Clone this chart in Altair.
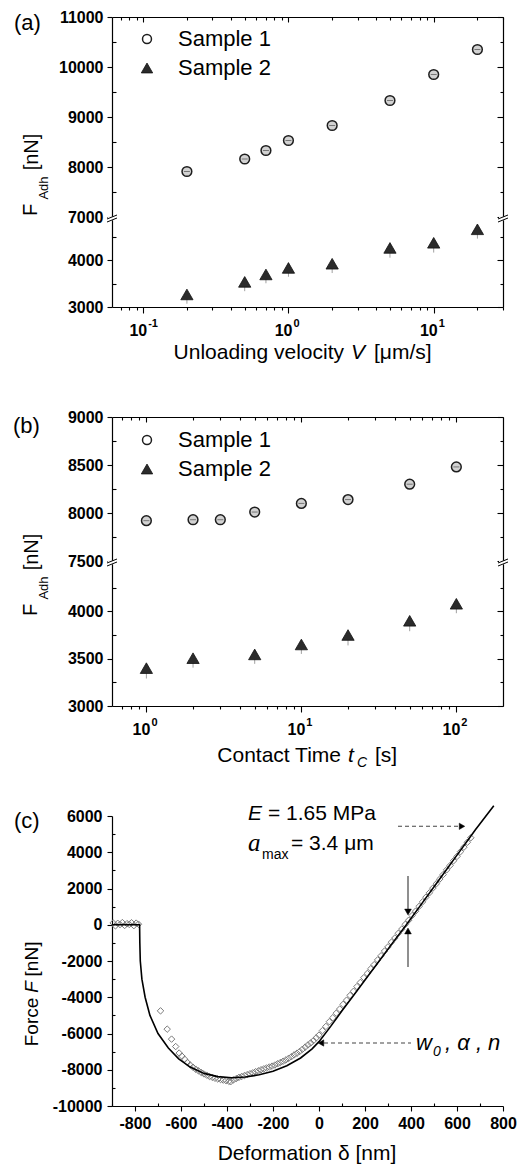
import altair as alt
import pandas as pd

FONT = "Liberation Sans"
SERIF = "Liberation Serif"

# ---------------- panel (a): adhesion force vs unloading velocity ----------------
a_velocity = [0.2, 0.5, 0.7, 1, 2, 5, 10, 20]
a_sample1 = [7910, 8160, 8330, 8530, 8830, 9330, 9850, 10350]
a_sample2 = [3270, 3540, 3700, 3840, 3930, 4270, 4380, 4670]
a_sample2_err = [200, 200, 190, 190, 200, 210, 210, 200]
a_x_ticks = [0.07, 0.08, 0.09, 0.1, 0.2, 0.3, 0.4, 0.5, 0.6, 0.7, 0.8, 0.9,
             1, 2, 3, 4, 5, 6, 7, 8, 9, 10, 20, 30]
a_x_major = [0.1, 1, 10]
a_x_exps = ["-1", "0", "1"]
a_x_domain = [0.061, 30]
a_y_domain = [3000, 4870, 7000, 11000]
a_y_major = [3000, 4000, 7000, 8000, 9000, 10000, 11000]
a_y_minor = [3500, 4500, 7500, 8500, 9500, 10500]

# ---------------- panel (b): adhesion force vs contact time ----------------
b_time1 = [1, 2, 3, 5, 10, 20, 50, 100]
b_sample1 = [7920, 7930, 7930, 8010, 8100, 8140, 8300, 8480]
b_time2 = [1, 2, 5, 10, 20, 50, 100]
b_sample2 = [3400, 3505, 3545, 3650, 3750, 3900, 4080]
b_sample2_err = [110, 100, 100, 100, 110, 110, 100]
b_x_ticks = [0.7, 0.8, 0.9, 1, 2, 3, 4, 5, 6, 7, 8, 9, 10,
             20, 30, 40, 50, 60, 70, 80, 90, 100]
b_x_major = [1, 10, 100]
b_x_exps = ["0", "1", "2"]
b_x_domain = [0.6, 200]
b_y_domain = [3000, 4500, 7500, 9000]
b_y_major = [3000, 3500, 4000, 7500, 8000, 8500, 9000]
b_y_minor = [3250, 3750, 4250, 7750, 8250, 8750]

# ---------------- panel (c): force vs deformation ----------------
c_fit_x = [-900, -780, -779, -777, -770, -756, -735, -700, -655, -610, -560, -500,
           -440, -380, -320, -260, -200, -140, -80, -30, 0, 50, 100, 150, 200,
           260, 320, 380, 450, 520, 600, 680, 760]
c_fit_F = [0, 0, -1000, -2000, -3000, -4000, -5000, -6000, -6800, -7400, -7850, -8200,
           -8380, -8440, -8400, -8280, -8080, -7780, -7350, -6850, -6450, -5620, -4750, -3900, -3050,
           -2030, -1000, 0, 1220, 2440, 3840, 5240, 6560]
c_meas_x = [-895, -885, -875, -865, -855, -845, -835, -825, -815, -805, -795, -785,
            -689, -660, -641, -623, -608, -596, -584, -572, -560, -548, -536, -524,
            -512, -500, -488, -476, -464, -452, -440, -428, -416, -404, -392, -384,
            -372, -360, -348, -336, -324, -312, -300, -288, -276, -264, -252, -240,
            -228, -216, -204, -192, -180, -168, -156, -144, -132, -120, -108, -96,
            -84, -72, -60, -48, -36, -24, -12, 0,
            15, 30, 45, 60, 75, 90, 105, 120, 135, 150, 165, 180, 195, 210, 225, 240,
            255, 270, 285, 300, 315, 330, 345, 360, 375, 390, 405, 420, 435, 450, 465,
            480, 495, 510, 525, 540, 555, 570, 585, 600, 615, 630, 645, 660]
c_meas_F = [100, -60, 80, 10, 120, -40, 60, 20, 110, -50, 90, 30,
            -4750, -5760, -6310, -6720, -7080, -7250, -7420, -7600, -7740, -7860, -7970, -8060,
            -8150, -8230, -8300, -8370, -8420, -8470, -8510, -8540, -8570, -8600, -8640, -8660,
            -8560, -8490, -8420, -8370, -8320, -8270, -8220, -8170, -8110, -8060, -8000, -7950,
            -7900, -7850, -7800, -7740, -7670, -7600, -7530, -7460, -7370, -7280, -7180, -7090,
            -6990, -6870, -6750, -6630, -6520, -6390, -6240, -6090,
            -5840, -5610, -5350, -5130, -4880, -4650, -4390, -4160, -3900, -3670, -3410, -3180,
            -2920, -2690, -2430, -2200, -1940, -1710, -1450, -1220, -960, -730, -470, -240,
            20, 250, 510, 750, 1010, 1260, 1520, 1760, 2020, 2260, 2520, 2770, 3030, 3270,
            3530, 3770, 4030, 4280, 4550, 4800]
c_x_domain = [-900, 800]
c_y_domain = [-10000, 6000]
c_x_major = [-800, -600, -400, -200, 0, 200, 400, 600, 800]
c_x_minor = [-900, -700, -500, -300, -100, 100, 300, 500, 700]
c_y_major = [-10000, -8000, -6000, -4000, -2000, 0, 2000, 4000, 6000]
c_y_minor = [-9000, -7000, -5000, -3000, -1000, 1000, 3000, 5000]

W = 391
ONE = pd.DataFrame({"k": [0]})
LBL = dict(labelFont=FONT, labelFontSize=16, labelFontWeight="bold", labelColor="black",
           labelOverlap=False, labelFlush=False, grid=False, title=None,
           domainColor="black", domainWidth=1.2, tickColor="black", tickWidth=1.1)
BARE = dict(labels=False, grid=False, title=None, domainColor="black", domainWidth=1.2,
            tickColor="black", tickWidth=1.1)


def tick_size(majors, big, small):
    test = " || ".join(f"datum.value == {v}" for v in majors)
    return {"condition": {"test": test, "value": big}, "value": small}


def txt(text, x, y, size=21, align="left", style="normal", font=FONT, angle=None):
    kw = dict(text=text, align=align, baseline="middle", font=font, fontSize=size,
              fontStyle=style, color="black")
    if angle is not None:
        kw["angle"] = angle
    return alt.Chart(ONE).mark_text(**kw).encode(x=alt.value(x), y=alt.value(y))


def seg(x1, x2, y1, y2, color="black", width=1.0, dash=None):
    kw = dict(color=color, strokeWidth=width)
    if dash:
        kw["strokeDash"] = dash
    return alt.Chart(ONE).mark_rule(**kw).encode(
        x=alt.value(x1), x2=alt.value(x2), y=alt.value(y1), y2=alt.value(y2))


def sym(shape, x, y, size, fill="black", stroke="black", sw=1.0):
    return alt.Chart(ONE).mark_point(shape=shape, filled=True, fill=fill, stroke=stroke,
                                     strokeWidth=sw, size=size, opacity=1).encode(
        x=alt.value(x), y=alt.value(y))


def break_marks(yb):
    out = []
    for x0 in (0, W):
        out.append(seg(x0 - 4, x0 + 4, yb, yb, color="white", width=3.6))
        out.append(seg(x0 - 5, x0 + 5, yb + 0.5, yb - 3.5))
        out.append(seg(x0 - 5, x0 + 5, yb + 3.5, yb - 0.5))
    return out


def scatter_panel(H, yrange, gap, x1, y1, x2, y2, err2, xdom, xticks, xmajor, xexps,
                  ydom, ymajor, yminor, extra):
    xs = alt.Scale(type="log", domain=xdom, nice=False)
    ys = alt.Scale(type="linear", domain=ydom, range=yrange, nice=False, zero=False)
    d1 = pd.DataFrame({"x": x1, "y": y1})
    d2 = pd.DataFrame({"x": x2, "y": y2,
                       "lo": [v - e for v, e in zip(y2, err2)]})
    dl = pd.DataFrame({"x": xmajor, "exp": xexps})
    main_x = alt.Axis(values=xticks, tickSize=tick_size(xmajor, 6, 3), domain=True, **BARE)
    main_y = alt.Axis(values=ymajor, labelExpr="'' + datum.value", tickSize=5,
                      labelPadding=4, **LBL)
    top_x = alt.Axis(orient="bottom", offset=-H, values=xticks,
                     tickSize=tick_size(xmajor, 5, 3), domain=True, **BARE)
    inner_left = alt.Axis(orient="right", offset=-W, values=yminor, tickSize=4,
                          domain=False, **BARE)
    right_y = alt.Axis(orient="left", offset=-W, values=ymajor + yminor,
                       tickSize=tick_size(ymajor, 6, 3), domain=True, **BARE)

    err = alt.Chart(d2).mark_rule(color="#a0a0a0", strokeWidth=1).encode(
        x=alt.X("x:Q", scale=xs, axis=None), y=alt.Y("lo:Q", scale=ys, axis=None), y2="y:Q")
    tri = alt.Chart(d2).mark_point(shape="triangle-up", filled=True, fill="#2b2b2b",
                                   stroke="#111111", strokeWidth=0.8, size=150, opacity=1).encode(
        x=alt.X("x:Q", scale=xs, axis=None), y=alt.Y("y:Q", scale=ys, axis=None))
    circ = alt.Chart(d1).mark_point(shape="circle", filled=True, fill="#d2d2d2",
                                    stroke="#1e1e1e", strokeWidth=1.5, size=95, opacity=1).encode(
        x=alt.X("x:Q", scale=xs, axis=main_x), y=alt.Y("y:Q", scale=ys, axis=main_y))
    inner = alt.Chart(d1).mark_tick(orient="horizontal", size=6, thickness=1,
                                    color="#777777", opacity=1).encode(
        x=alt.X("x:Q", scale=xs, axis=None), y=alt.Y("y:Q", scale=ys, axis=None))
    ax2 = alt.Chart(d1).mark_point(opacity=0).encode(
        x=alt.X("x:Q", scale=xs, axis=top_x), y=alt.Y("y:Q", scale=ys, axis=inner_left))
    ax3 = alt.Chart(d1).mark_point(opacity=0).encode(
        x=alt.X("x:Q", scale=xs, axis=None), y=alt.Y("y:Q", scale=ys, axis=right_y))
    # decade tick labels: "10" with a raised exponent
    lab10 = alt.Chart(dl).mark_text(text="10", font=FONT, fontSize=16, fontWeight="bold",
                                    align="right", baseline="middle", dx=4, color="black").encode(
        x=alt.X("x:Q", scale=xs, axis=None), y=alt.value(H + 24))
    labexp = alt.Chart(dl).mark_text(font=FONT, fontSize=11, fontWeight="bold",
                                     align="left", baseline="middle", dx=5, dy=-7,
                                     color="black").encode(
        x=alt.X("x:Q", scale=xs, axis=None), y=alt.value(H + 24), text="exp:N")

    layers = [err, tri, circ, inner, ax2, ax3, lab10, labexp] + break_marks(gap) + extra
    return alt.layer(*layers).resolve_axis(x="independent", y="independent").properties(
        width=W, height=H)


def legend_and_ytitle(dy_leg):
    return [
        sym("circle", 35, dy_leg, 80, fill="white", stroke="#1e1e1e", sw=1.5),
        txt("Sample 1", 66, dy_leg, size=22),
        sym("triangle-up", 35, dy_leg + 29, 130, fill="#2b2b2b", stroke="#111111", sw=0.8),
        txt("Sample 2", 66, dy_leg + 29, size=22),
        txt("F", -81, 193, size=20, align="center", angle=270),
        txt("Adh", -68, 171, size=13, align="center", angle=270),
        txt("[nN]", -80, 135, size=20, align="center", angle=270),
    ]


extra_a = legend_and_ytitle(22) + [
    txt("(a)", -98, 6, size=22),
    txt("Unloading velocity", 232, 336, size=21, align="right"),
    txt("V", 246, 336, size=21, align="center", style="italic"),
    txt("[μm/s]", 262, 336, size=21),
]
panel_a = scatter_panel(290, [290, 203, 200, 0], 201.5,
                        a_velocity, a_sample1, a_velocity, a_sample2, a_sample2_err,
                        a_x_domain, a_x_ticks, a_x_major, a_x_exps,
                        a_y_domain, a_y_major, a_y_minor, extra_a)

extra_b = legend_and_ytitle(23) + [
    txt("(b)", -99, 9, size=22),
    txt("Contact Time", 229, 339, size=21, align="right"),
    txt("t", 239, 339, size=21, align="center", style="italic"),
    txt("C", 250, 346, size=14, align="center", style="italic"),
    txt("[s]", 263, 339, size=21),
]
panel_b = scatter_panel(289, [289, 147, 144, 0], 145.5,
                        b_time1, b_sample1, b_time2, b_sample2, b_sample2_err,
                        b_x_domain, b_x_ticks, b_x_major, b_x_exps,
                        b_y_domain, b_y_major, b_y_minor, extra_b)

# ---------------- panel (c) ----------------
HC = 290
cxs = alt.Scale(domain=c_x_domain, nice=False, zero=False)
cys = alt.Scale(domain=c_y_domain, nice=False, zero=False)
fit_df = pd.DataFrame({"x": c_fit_x, "F": c_fit_F, "i": list(range(len(c_fit_x)))})
meas_df = pd.DataFrame({"x": c_meas_x, "F": c_meas_F})

c_main_x = alt.Axis(values=c_x_major, labelExpr="'' + datum.value", tickSize=5,
                    labelPadding=4, **LBL)
c_main_y = alt.Axis(values=c_y_major, labelExpr="'' + datum.value", tickSize=5,
                    labelPadding=5, **LBL)
c_minor_x = alt.Axis(orient="top", offset=-HC, values=c_x_minor, tickSize=3, domain=False, **BARE)
c_minor_y = alt.Axis(orient="right", offset=-W, values=c_y_minor, tickSize=3, domain=False, **BARE)

meas = alt.Chart(meas_df).mark_point(shape="diamond", filled=False, stroke="#7a7a7a",
                                     strokeWidth=1, size=42, opacity=1).encode(
    x=alt.X("x:Q", scale=cxs, axis=c_main_x), y=alt.Y("F:Q", scale=cys, axis=c_main_y))
fit = alt.Chart(fit_df).mark_line(color="black", strokeWidth=1.6).encode(
    x=alt.X("x:Q", scale=cxs, axis=None), y=alt.Y("F:Q", scale=cys, axis=None), order="i:Q")
cax2 = alt.Chart(fit_df).mark_point(opacity=0).encode(
    x=alt.X("x:Q", scale=cxs, axis=c_minor_x), y=alt.Y("F:Q", scale=cys, axis=c_minor_y))

c_extra = [
    # dashed arrow to the upper part of the curve
    seg(286, 347, 10.3, 10.3, color="#444444", width=1.1, dash=[4, 3]),
    sym("triangle-right", 350, 10.3, 40, fill="black", stroke="black", sw=0.5),
    # dashed arrow to the lower part of the curve
    seg(212, 299, 227, 227, color="#444444", width=1.1, dash=[4, 3]),
    sym("triangle-left", 209, 227, 40, fill="black", stroke="black", sw=0.5),
    # vertical arrows at the zero crossing
    seg(296, 296, 60, 95, color="#333333", width=1.1),
    sym("triangle-down", 296, 96, 45, fill="black", stroke="black", sw=0.5),
    seg(296, 296, 115, 151, color="#333333", width=1.1),
    sym("triangle-up", 296, 115, 45, fill="black", stroke="black", sw=0.5),
    # annotations
    txt("E", 136, -2, size=21, style="italic"),
    txt("= 1.65 MPa", 156, -2, size=21),
    txt("a", 136, 27, size=25, style="italic", font=SERIF),
    txt("max", 150, 39, size=14),
    txt("= 3.4 μm", 179, 28, size=21),
    txt("w", 304, 227, size=22, style="italic"),
    txt("0", 321, 236, size=14, style="italic"),
    txt(", α , n", 333, 227, size=22, style="italic"),
    # labels
    txt("(c)", -98, 5, size=22),
    txt("Force", -80, 206, size=19, align="center", angle=270),
    txt("F", -80, 171, size=19, align="center", angle=270, style="italic"),
    txt("[nN]", -80, 143, size=19, align="center", angle=270),
    txt("Deformation δ [nm]", 195, 338, size=21, align="center"),
]

panel_c = alt.layer(meas, fit, cax2, *c_extra).resolve_axis(
    x="independent", y="independent").properties(width=W, height=HC)

chart = alt.vconcat(panel_a, panel_b, panel_c, spacing=110, bounds="flush").properties(
    padding={"left": 5, "top": 1, "right": 5, "bottom": 2}
).configure_view(stroke=None).configure_axis(grid=False)

chart.save("out.html", embed_options={"renderer": "svg", "actions": False})
